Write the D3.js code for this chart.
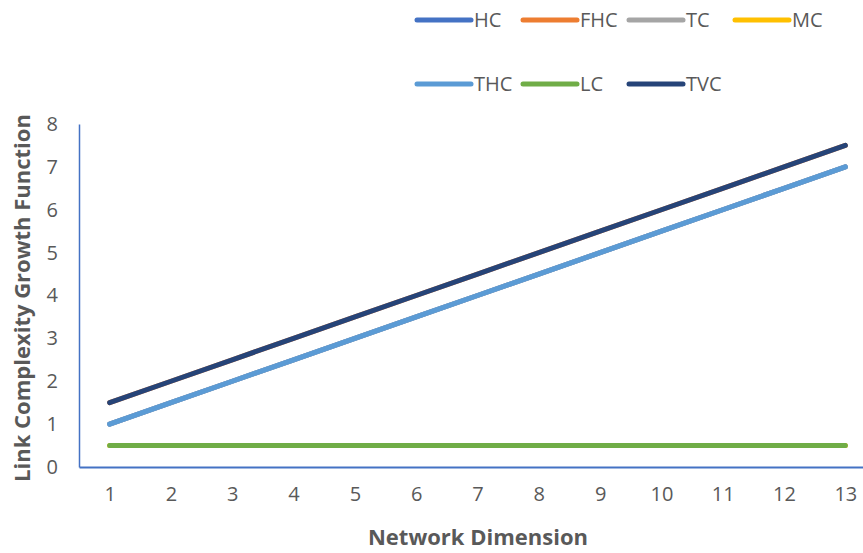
<!DOCTYPE html>
<html>
<head>
<meta charset="utf-8">
<script src="https://cdn.jsdelivr.net/npm/d3@7"></script>
<style>
  html, body { margin: 0; padding: 0; background: #fff; }
  text { font-family: "Open Sans", "Noto Sans", sans-serif; }
</style>
</head>
<body>
<svg id="chart" width="863" height="553"></svg>
<script>
// Network dimension categories
const dimensions = [1, 2, 3, 4, 5, 6, 7, 8, 9, 10, 11, 12, 13];

// Link complexity growth per topology
const hcValues  = [1, 1.5, 2, 2.5, 3, 3.5, 4, 4.5, 5, 5.5, 6, 6.5, 7];
const fhcValues = [1.5, 2, 2.5, 3, 3.5, 4, 4.5, 5, 5.5, 6, 6.5, 7, 7.5];
const tcValues  = [1, 1.5, 2, 2.5, 3, 3.5, 4, 4.5, 5, 5.5, 6, 6.5, 7];
const mcValues  = [0.5, 0.5, 0.5, 0.5, 0.5, 0.5, 0.5, 0.5, 0.5, 0.5, 0.5, 0.5, 0.5];
const thcValues = [1, 1.5, 2, 2.5, 3, 3.5, 4, 4.5, 5, 5.5, 6, 6.5, 7];
const lcValues  = [0.5, 0.5, 0.5, 0.5, 0.5, 0.5, 0.5, 0.5, 0.5, 0.5, 0.5, 0.5, 0.5];
const tvcValues = [1.5, 2, 2.5, 3, 3.5, 4, 4.5, 5, 5.5, 6, 6.5, 7, 7.5];

const seriesNames = ["HC", "FHC", "TC", "MC", "THC", "LC", "TVC"];
const yTicks = [0, 1, 2, 3, 4, 5, 6, 7, 8];

const series = [
  { name: "HC",  values: hcValues,  color: "#4472C4" },
  { name: "FHC", values: fhcValues, color: "#ED7D31" },
  { name: "TC",  values: tcValues,  color: "#A5A5A5" },
  { name: "MC",  values: mcValues,  color: "#FFC000" },
  { name: "THC", values: thcValues, color: "#5B9BD5" },
  { name: "LC",  values: lcValues,  color: "#70AD47" },
  { name: "TVC", values: tvcValues, color: "#264478" }
];

const svg = d3.select("#chart");
const plot = { left: 79, right: 876, top: 124, bottom: 467 };

const x = d3.scalePoint()
  .domain(dimensions)
  .range([plot.left, plot.right])
  .padding(0.5);

const y = d3.scaleLinear()
  .domain([0, 8])
  .range([plot.bottom, plot.top]);

const textColor = "#595959";
const axisColor = "#4472C4";

// Y axis
const yAxis = svg.append("g")
  .attr("transform", `translate(${plot.left},0)`)
  .call(d3.axisLeft(y).tickValues(yTicks).tickSize(0).tickPadding(21).tickFormat(d3.format("d")));
yAxis.select(".domain").attr("stroke", axisColor).attr("stroke-width", 1.5);
yAxis.selectAll("text")
  .attr("fill", textColor)
  .style("font-size", "20px")
  .style("font-family", "'Open Sans', sans-serif");

// X axis
const xAxis = svg.append("g")
  .attr("transform", `translate(0,${plot.bottom})`)
  .call(d3.axisBottom(x).tickSize(0).tickPadding(20));
xAxis.select(".domain").attr("stroke", axisColor).attr("stroke-width", 2);
xAxis.selectAll("text")
  .attr("fill", textColor)
  .style("font-size", "20px")
  .style("font-family", "'Open Sans', sans-serif");

// Lines
const line = d3.line()
  .x((d, i) => x(dimensions[i]))
  .y(d => y(d));

svg.append("g")
  .selectAll("path")
  .data(series)
  .join("path")
  .attr("d", s => line(s.values))
  .attr("fill", "none")
  .attr("stroke", s => s.color)
  .attr("stroke-width", 5)
  .attr("stroke-linecap", "round")
  .attr("stroke-linejoin", "round");

// Axis titles
svg.append("text")
  .attr("x", 478)
  .attr("y", 545)
  .attr("text-anchor", "middle")
  .attr("fill", textColor)
  .style("font-size", "22px")
  .style("font-weight", "bold")
  .text("Network Dimension");

svg.append("text")
  .attr("transform", "translate(30,298) rotate(-90)")
  .attr("text-anchor", "middle")
  .attr("fill", textColor)
  .style("font-size", "22px")
  .style("font-weight", "bold")
  .text("Link Complexity Growth Function");

// Legend: two rows
const legendPos = [
  { x: 417, y: 20 }, { x: 523, y: 20 }, { x: 629, y: 20 }, { x: 735, y: 20 },
  { x: 417, y: 84 }, { x: 523, y: 84 }, { x: 629, y: 84 }
];

const legend = svg.append("g")
  .selectAll("g")
  .data(series)
  .join("g")
  .attr("transform", (s, i) => `translate(${legendPos[i].x},${legendPos[i].y})`);

legend.append("line")
  .attr("x1", 0).attr("x2", 54)
  .attr("y1", 0).attr("y2", 0)
  .attr("stroke", s => s.color)
  .attr("stroke-width", 5)
  .attr("stroke-linecap", "round");

legend.append("text")
  .attr("x", 57)
  .attr("y", 7)
  .attr("fill", textColor)
  .style("font-size", "20px")
  .text(s => s.name);
</script>
</body>
</html>
